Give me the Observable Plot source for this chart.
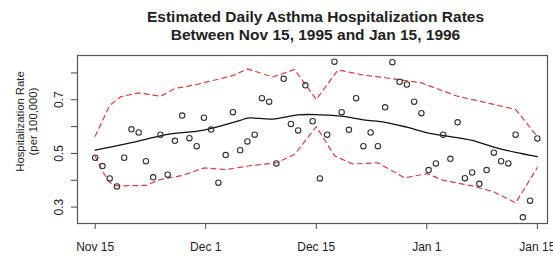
<!DOCTYPE html>
<html><head><meta charset="utf-8">
<script src="https://cdn.jsdelivr.net/npm/d3@7"></script>
<script src="https://cdn.jsdelivr.net/npm/@observablehq/plot@0.6"></script>
<style>body{margin:0;background:#fff} svg{display:block}</style>
</head><body><div id="chart"></div>
<script>
// Daily rates, Nov 15 1995 (day 0) .. Jan 15 1996 (day 61)
const rates = [0.484,0.453,0.407,0.377,0.484,0.590,0.578,0.471,0.411,0.570,
  0.421,0.547,0.641,0.557,0.527,0.633,0.589,0.391,0.494,0.654,
  0.512,0.545,0.570,0.706,0.693,0.463,0.778,0.610,0.586,0.754,
  0.620,0.407,0.570,0.842,0.654,0.588,0.706,0.527,0.578,0.527,
  0.672,0.840,0.767,0.757,0.693,0.650,0.438,0.463,0.570,0.480,
  0.616,0.408,0.429,0.387,0.438,0.503,0.471,0.463,0.570,0.262,
  0.324,0.556];
const smoothDay  = [0,5,10,15,20,21,24.5,28,31,34,37,40,43,46,49,52,55,58,61];
const smoothRate = [0.512,0.540,0.571,0.587,0.623,0.632,0.628,0.644,0.644,0.639,0.625,0.616,0.598,0.576,0.563,0.549,0.524,0.504,0.488];
const upperDay  = [0,2,3.5,6,9,11,14,19,21,24.5,27.5,30.5,33.5,37,40,45,50,53,58,61];
const upperRate = [0.564,0.679,0.711,0.726,0.713,0.742,0.757,0.790,0.815,0.785,0.813,0.701,0.811,0.792,0.782,0.763,0.713,0.695,0.664,0.563];
const lowerDay  = [0,1,2,3,7,9,12,15,18,21.5,25,27.5,30.5,33,35.5,39,42.7,45.8,48,52,55,58,61];
const lowerRate = [0.490,0.434,0.392,0.379,0.381,0.403,0.418,0.446,0.440,0.455,0.465,0.496,0.600,0.492,0.461,0.465,0.409,0.425,0.400,0.379,0.357,0.316,0.447];
const tickPos = [0,15.25,30.5,45.75,61];
const tickLabels = ["Nov 15","Dec 1","Dec 15","Jan 1","Jan 15"];
const yTicks = [0.3,0.4,0.5,0.6,0.7,0.8];
const yLabelled = [0.3,0.5,0.7];
const titleLines = ["Estimated Daily Asthma Hospitalization Rates","Between Nov 15, 1995 and Jan 15, 1996"];
const yTitleLines = ["Hospitalization Rate","(per 100,000)"];

const pts = rates.map((r,i)=>({day:i, rate:r}));
const smooth = smoothDay.map((d,i)=>({day:d, rate:smoothRate[i]}));
const upper = upperDay.map((d,i)=>({day:d, rate:upperRate[i]}));
const lower = lowerDay.map((d,i)=>({day:d, rate:lowerRate[i]}));
const red = "#e23a40";

const chart = Plot.plot({
  width:553, height:257,
  marginTop:55, marginBottom:34, marginLeft:77, marginRight:6,
  style:{fontFamily:"'Liberation Sans', Arial, sans-serif", background:"#fff", color:"#222"},
  x:{domain:[-2.44,62.4]},
  y:{domain:[0.239,0.865]},
  marks:[
    Plot.axisY({ticks:yTicks, tickSize:6, tickPadding:9, tickRotate:-90,
      tickFormat:d => yLabelled.includes(d) ? String(d) : "", fontSize:12, label:null, stroke:"#444"}),
    Plot.axisX({ticks:tickPos, tickSize:6, tickPadding:13,
      tickFormat:d => tickLabels[tickPos.indexOf(d)], fontSize:12, label:null, stroke:"#444"}),
    Plot.line(upper, {x:"day", y:"rate", stroke:red, strokeWidth:1.2, strokeDasharray:"5,4"}),
    Plot.line(lower, {x:"day", y:"rate", stroke:red, strokeWidth:1.2, strokeDasharray:"5,4"}),
    Plot.line(smooth, {x:"day", y:"rate", stroke:"#111", strokeWidth:1.3, curve:"catmull-rom"}),
    Plot.dot(pts, {x:"day", y:"rate", r:2.7, stroke:"#333", strokeWidth:1.1, fill:"none"}),
    Plot.frame({stroke:"#555", strokeWidth:1.2}),
    Plot.text([titleLines.join("\n")], {frameAnchor:"top", dx:3, dy:-16, lineAnchor:"bottom",
      textAnchor:"middle", fontWeight:"bold", fontSize:15.5, lineHeight:1.16, fill:"#222"}),
    Plot.text([yTitleLines.join("\n")], {frameAnchor:"left", rotate:-90, dx:-41, dy:-18,
      textAnchor:"middle", lineAnchor:"bottom", fontSize:11.3, lineHeight:1.15, fill:"#222"})
  ]
});
document.getElementById("chart").appendChild(chart);
</script>
</body></html>
